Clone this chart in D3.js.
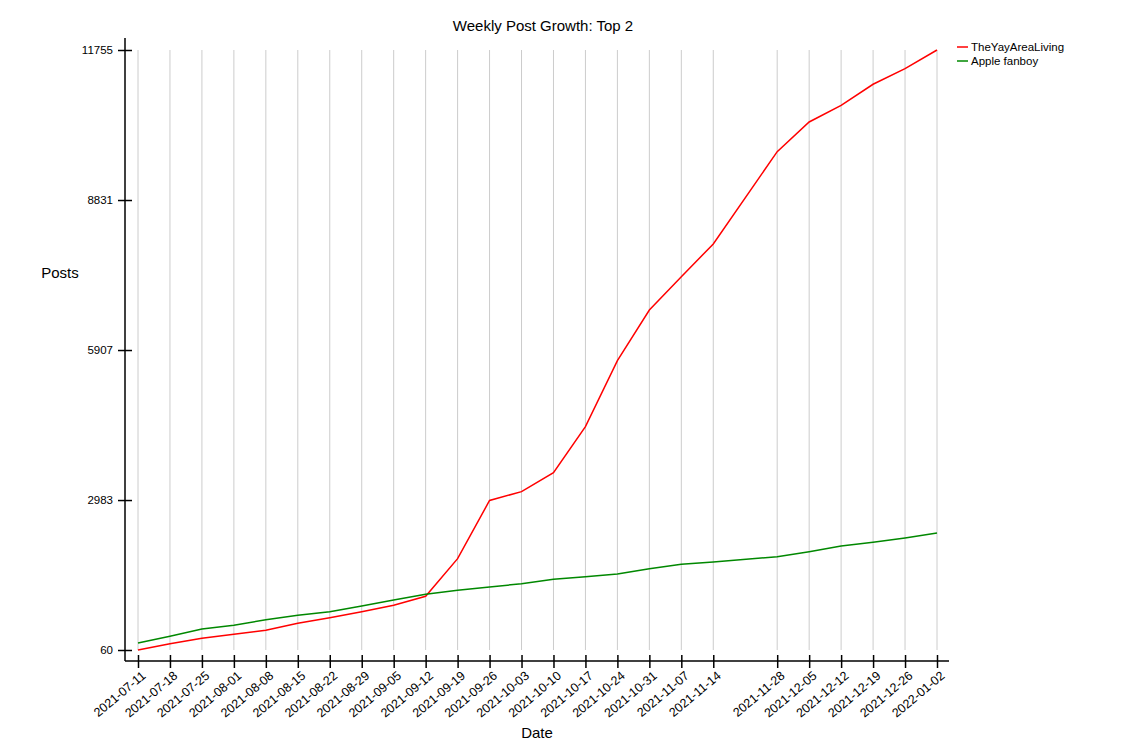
<!DOCTYPE html>
<html>
<head>
<meta charset="utf-8">
<script src="https://cdn.jsdelivr.net/npm/d3@7"></script>
<style>
  body { margin: 0; background: #fff; }
  text { font-family: "Liberation Sans", Arial, sans-serif; fill: #000; }
  .grid line { stroke: #cccccc; stroke-width: 1; }
  .line { fill: none; stroke-width: 1.5; }
</style>
</head>
<body>
<div id="chart"></div>
<script>
// weekly snapshots (2021-11-21 is missing in the source data)
var dates = ["2021-07-11", "2021-07-18", "2021-07-25", "2021-08-01", "2021-08-08",
             "2021-08-15", "2021-08-22", "2021-08-29", "2021-09-05", "2021-09-12",
             "2021-09-19", "2021-09-26", "2021-10-03", "2021-10-10", "2021-10-17",
             "2021-10-24", "2021-10-31", "2021-11-07", "2021-11-14", "2021-11-28",
             "2021-12-05", "2021-12-12", "2021-12-19", "2021-12-26", "2022-01-02"];

var yayArea = [60, 183, 288, 366, 444, 580, 690, 807, 931, 1107,
               1840, 2975, 3146, 3516, 4413, 5699, 6687, 7337, 7974, 9773,
               10352, 10677, 11087, 11391, 11755];

var appleFanboy = [196, 327, 469, 541, 651, 736, 807, 918, 1035, 1146,
                   1224, 1288, 1352, 1438, 1489, 1541, 1645, 1730, 1775, 1879,
                   1976, 2087, 2159, 2243, 2341];

var seriesNames = ["TheYayAreaLiving", "Apple fanboy"];
var seriesColors = ["#ff0000", "#008800"];

var yTicks = [60, 2983, 5907, 8831, 11755];

var parseDate = d3.timeParse("%Y-%m-%d");
var fmtDate = d3.timeFormat("%Y-%m-%d");

function setup_chart_area() {
    var width = 1125, height = 750;
    var svg = d3.select("#chart")
        .append("svg")
        .attr("width", width)
        .attr("height", height);
    return [width, height, svg];
}

function draw_lineplot() {
    var [width, height, svg] = setup_chart_area();

    var xDates = dates.map(parseDate);

    var x = d3.scaleTime()
        .domain(d3.extent(xDates))
        .range([138, 937]);
    var y = d3.scaleLinear()
        .domain([60, 11755])
        .range([650, 50]);

    var axisX = 661, axisY = 125;

    // vertical grid at each snapshot date
    svg.append("g")
        .attr("class", "grid")
        .selectAll("line")
        .data(xDates)
        .join("line")
        .attr("x1", function(d) { return x(d); })
        .attr("x2", function(d) { return x(d); })
        .attr("y1", y(60))
        .attr("y2", y(11755));

    // x axis
    var xAxis = d3.axisBottom(x)
        .tickValues(xDates)
        .tickFormat(fmtDate)
        .tickSize(7)
        .tickSizeOuter(0);
    var gx = svg.append("g")
        .attr("transform", `translate(0, ${axisX})`)
        .call(xAxis);
    gx.select(".domain").remove();
    gx.selectAll(".tick line")
        .attr("y1", -6)
        .attr("stroke", "#000")
        .attr("stroke-width", 1.5);
    gx.selectAll(".tick text")
        .attr("font-size", 12.5)
        .attr("font-family", "Liberation Sans, Arial, sans-serif")
        .attr("text-anchor", "end")
        .attr("x", 0)
        .attr("y", 0)
        .attr("dy", 0)
        .attr("transform", "translate(8, 16) rotate(-40)");
    svg.append("line")
        .attr("x1", axisY).attr("x2", 949)
        .attr("y1", axisX).attr("y2", axisX)
        .attr("stroke", "#000").attr("stroke-width", 1.5);

    // y axis
    var yAxis = d3.axisLeft(y)
        .tickValues(yTicks)
        .tickFormat(d3.format("d"))
        .tickSize(7)
        .tickSizeOuter(0);
    var gy = svg.append("g")
        .attr("transform", `translate(${axisY}, 0)`)
        .call(yAxis);
    gy.select(".domain").remove();
    gy.selectAll(".tick line")
        .attr("x1", 7)
        .attr("stroke", "#000")
        .attr("stroke-width", 1.5);
    gy.selectAll(".tick text")
        .attr("font-size", 11.5)
        .attr("font-family", "Liberation Sans, Arial, sans-serif")
        .attr("x", -12);
    svg.append("line")
        .attr("x1", axisY).attr("x2", axisY)
        .attr("y1", 38).attr("y2", axisX)
        .attr("stroke", "#000").attr("stroke-width", 1.5);

    // data
    var valueline = d3.line()
        .x(function(d) { return x(d.date); })
        .y(function(d) { return y(d.value); });

    [yayArea, appleFanboy].forEach(function(vals, i) {
        var rows = vals.map(function(v, j) { return {date: xDates[j], value: v}; });
        svg.append("path")
            .data([rows])
            .attr("class", "line")
            .attr("stroke", seriesColors[i])
            .attr("d", valueline);
    });

    // titles
    svg.append("text")
        .attr("x", 543).attr("y", 31)
        .attr("text-anchor", "middle")
        .attr("font-size", 15)
        .text("Weekly Post Growth: Top 2");
    svg.append("text")
        .attr("x", 537).attr("y", 738)
        .attr("text-anchor", "middle")
        .attr("font-size", 15)
        .text("Date");
    svg.append("text")
        .attr("x", 60).attr("y", 278)
        .attr("text-anchor", "middle")
        .attr("font-size", 15)
        .text("Posts");

    // legend
    var legend = svg.append("g").attr("transform", "translate(957, 47)");
    seriesNames.forEach(function(name, i) {
        legend.append("line")
            .attr("x1", 0).attr("x2", 11)
            .attr("y1", i * 14).attr("y2", i * 14)
            .attr("stroke", seriesColors[i])
            .attr("stroke-width", 1.5);
        legend.append("text")
            .attr("x", 14).attr("y", i * 14 + 4)
            .attr("font-size", 11.5)
            .text(name);
    });
}

draw_lineplot();
</script>
</body>
</html>
